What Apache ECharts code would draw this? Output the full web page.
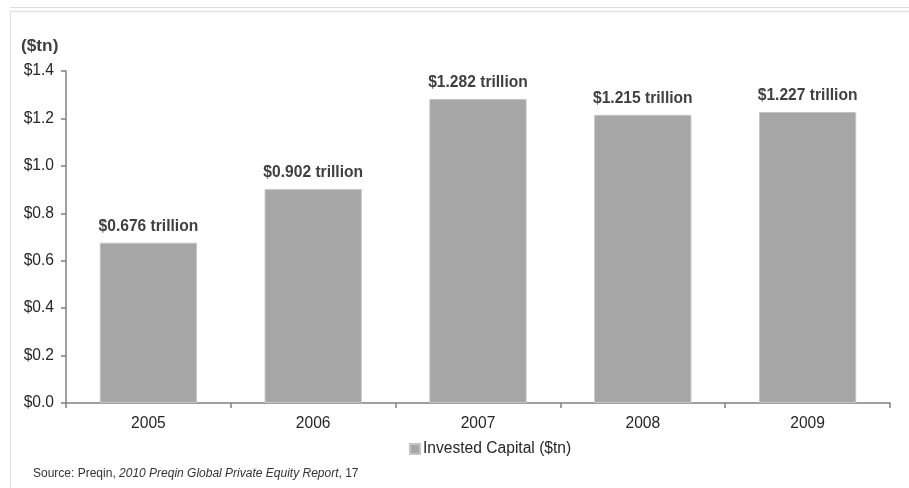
<!DOCTYPE html>
<html>
<head>
<meta charset="utf-8">
<script src="https://cdn.jsdelivr.net/npm/echarts@6/dist/echarts.min.js"></script>
<style>
  html, body { margin: 0; padding: 0; background: #fff; }
  #chart { width: 909px; height: 488px; }
</style>
</head>
<body>
<div id="chart"></div>
<script>
// Invested private equity capital by year, in trillions of dollars
const years = ['2005', '2006', '2007', '2008', '2009'];
const investedCapital = [0.676, 0.902, 1.282, 1.215, 1.227];
const yTicks = [0, 0.2, 0.4, 0.6, 0.8, 1.0, 1.2, 1.4];
const seriesName = 'Invested Capital ($tn)';

const FONT = '"Liberation Sans", Arial, sans-serif';
const FS = 15.6;
const chart = echarts.init(document.getElementById('chart'), null, { renderer: 'canvas' });

chart.setOption({
  animation: false,
  backgroundColor: '#ffffff',
  textStyle: { fontFamily: FONT },
  grid: { left: 66, right: 19, top: 71, bottom: 85 },
  legend: {
    data: [seriesName],
    top: 436,
    left: 404,
    itemWidth: 10,
    itemHeight: 10,
    itemGap: 4,
    icon: 'rect',
    textStyle: { fontFamily: FONT, fontSize: FS, color: '#262626', padding: [0, 0, 0, -2] }
  },
  xAxis: {
    type: 'category',
    data: years,
    axisLine: { lineStyle: { color: '#808080', width: 1.5 } },
    axisTick: { show: true, length: 5, alignWithLabel: false, lineStyle: { color: '#808080', width: 1.5 } },
    axisLabel: { fontFamily: FONT, fontSize: FS, color: '#262626', margin: 13 },
    splitLine: { show: false }
  },
  yAxis: {
    type: 'value',
    min: yTicks[0],
    max: yTicks[yTicks.length - 1],
    interval: 0.2,
    axisLine: { show: true, lineStyle: { color: '#808080', width: 1.5 } },
    axisTick: { show: true, length: 5, lineStyle: { color: '#808080', width: 1.5 } },
    axisLabel: {
      fontFamily: FONT, fontSize: FS, color: '#262626', margin: 12,
      formatter: v => '$' + v.toFixed(1)
    },
    splitLine: { show: false }
  },
  series: [{
    name: seriesName,
    type: 'bar',
    data: investedCapital,
    barWidth: '59%',
    itemStyle: { color: '#a6a6a6', borderColor: '#c4c4c4', borderWidth: 1 },
    label: {
      show: true,
      position: 'top',
      distance: 8,
      fontFamily: FONT,
      fontSize: FS,
      fontWeight: 'bold',
      color: '#404040',
      formatter: p => '$' + p.value.toFixed(3) + ' trillion'
    }
  }],
  graphic: [
    // frame lines
    { type: 'line', shape: { x1: 10, y1: 7.5, x2: 909, y2: 7.5 }, style: { stroke: '#dcdcdc', lineWidth: 1 } },
    { type: 'line', shape: { x1: 10, y1: 11.5, x2: 909, y2: 11.5 }, style: { stroke: '#e2e2e2', lineWidth: 1.5 } },
    { type: 'line', shape: { x1: 10.5, y1: 11, x2: 10.5, y2: 488 }, style: { stroke: '#e0e0e0', lineWidth: 1 } },
    // unit label
    {
      type: 'text', left: 21, top: 38,
      style: { text: '($tn)', fontFamily: FONT, fontSize: 17.3, fontWeight: 'bold', fill: '#404040' }
    },
    // source note
    {
      type: 'text', left: 33, top: 468,
      style: {
        text: '{n|Source: Preqin, }{i|2010 Preqin Global Private Equity Report}{n|, 17}',
        rich: {
          n: { fontFamily: FONT, fontSize: 12, fill: '#333333' },
          i: { fontFamily: FONT, fontSize: 12, fontStyle: 'italic', fill: '#333333' }
        }
      }
    }
  ]
});
</script>
</body>
</html>
